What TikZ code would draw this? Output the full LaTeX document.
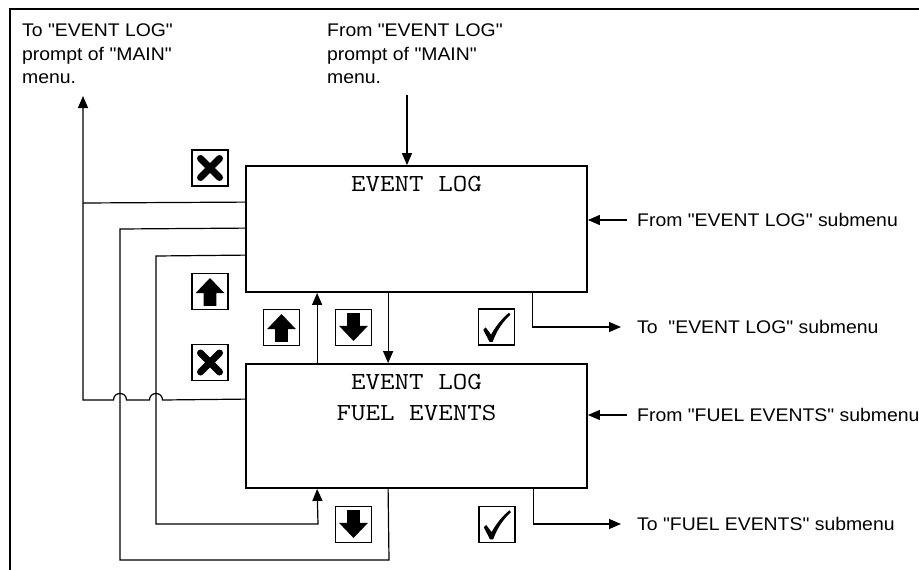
\documentclass[tikz,border=0pt]{standalone}
\usepackage{fontspec}
\setmainfont{Liberation Sans}[FakeStretch=1.06, Ligatures=TeXOff]
\newcommand\dq{\symbol{34}}
\newcommand\lcdline[1]{\scalebox{1.15}[1]{\ttfamily #1}}
\usetikzlibrary{arrows.meta,calc}
\tikzset{
  conn/.style={line width=1.2pt, black},
  arr/.style={conn, -{Triangle[length=12pt,width=10pt]}},
  panel/.style={draw, line width=1.8pt, minimum width=341pt, minimum height=126pt, inner sep=0pt},
  keybox/.style={draw, line width=1.5pt, minimum width=36pt, minimum height=36pt, inner sep=0pt, fill=white},
  lcdtext/.style={font=\fontsize{24.5}{30}\selectfont, inner sep=0pt},
  note/.style={font=\fontsize{18.3}{23.3}\selectfont, align=left, inner sep=0pt},
  side/.style={font=\fontsize{18.3}{23.3}\selectfont, inner sep=0pt, anchor=west},
  xsym/.pic={\draw[line width=7pt, line cap=round] (-9.5,-9.5)--(9.5,9.5) (-9.5,9.5)--(9.5,-9.5);},
  upsym/.pic={\fill (0,-13.5) -- (14.5,1.7) -- (6.3,1.7) -- (6.3,14.3) -- (-6.3,14.3) -- (-6.3,1.7) -- (-14.5,1.7) -- cycle;},
  downsym/.pic={\fill (0,13.5) -- (14.5,-1.7) -- (6.3,-1.7) -- (6.3,-14.3) -- (-6.3,-14.3) -- (-6.3,-1.7) -- (-14.5,-1.7) -- cycle;},
  checksym/.pic={\fill (-13.2,2.8) -- (-10.8,0.4) -- (-5.4,7.6) .. controls (0,-2) and (6,-9) .. (12.4,-14.2) -- (14,-12.4) .. controls (6,-5) and (0,4) .. (-3.8,14.8) -- (-7,14.8) -- cycle;},
}
\begin{document}
\begin{tikzpicture}[x=1pt,y=-1pt]
\useasboundingbox (0,0) rectangle (919,570);
% outer frame (right and bottom edges lie beyond the picture)
\draw[line width=1.8pt] (10,9) rectangle (940,590);

% panels
\node[panel] (box1) at (416.5,229) {};
\node[panel, minimum height=124pt] (box2) at (416.5,426) {};
\node[lcdtext, anchor=base] (t1) at (416.5,191.7) {\lcdline{EVENT LOG}};
\node[lcdtext, anchor=base] (t2) at (416.5,389.3) {\lcdline{EVENT LOG}};
\node[lcdtext, anchor=base] (t3) at (416.5,420) {\lcdline{FUEL EVENTS}};

% notes
\node[note, anchor=north west] (tl) at (22,24) {To \dq EVENT LOG\dq\\prompt of \dq MAIN\dq\\menu.};
\node[note, anchor=north west] (tt) at (327,24) {From \dq EVENT LOG\dq\\prompt of \dq MAIN\dq\\menu.};
\node[side] (fel) at (637,220) {From \dq EVENT LOG\dq{} submenu};
\node[side] (tel) at (637,327) {To\ \ \dq EVENT LOG\dq{} submenu};
\node[side] (ffe) at (637,415) {From \dq FUEL EVENTS\dq{} submenu};
\node[side] (tfe) at (637,524) {To \dq FUEL EVENTS\dq{} submenu};

% key icons
\node[keybox] (x1) at (210,168) {};
\node[keybox] (u1) at (210,291.5) {};
\node[keybox] (x2) at (210,362.5) {};
\node[keybox] (u2) at (281.5,327.5) {};
\node[keybox] (d1) at (353.5,327.5) {};
\node[keybox] (c1) at (496.5,327) {};
\node[keybox] (d2) at (353.5,524.5) {};
\node[keybox] (c2) at (497,524.5) {};
\pic at (x1) {xsym};
\pic at (x2) {xsym};
\pic at (u1) {upsym};
\pic at (u2) {upsym};
\pic at (d1) {downsym};
\pic at (d2) {downsym};
\pic at (c1) {checksym};
\pic at (c2) {checksym};

% connectors
\coordinate (topin) at (407,95);
\coordinate (mainout) at (83,96);
\draw[arr] (topin) -- (topin |- box1.north);
\draw[arr] ($(box2.north west)+(0,36)$) -- (162.5,400)
   .. controls (162.5,391.3) and (149.5,391.3) .. (149.5,400) -- (126.5,400)
   .. controls (126.5,391.3) and (113.5,391.3) .. (113.5,400) -- (83,400) -- (mainout);
\draw[conn] ($(box1.north west)+(0,37)$) -- (83,203);
\draw[conn] ($(box1.north west)+(0,63)$) -- (120,229) -- (120,560) -- (389,560) -- ($(box2.south west)+(143,0)$);
\draw[arr] ($(box1.north west)+(0,90)$) -- (156,256) -- (156,524) -- (318,524) -- ($(box2.south west)+(72,0)$);
\draw[arr] ($(box2.north west)+(72,0)$) -- ($(box1.south west)+(72,0)$);
\draw[arr] ($(box1.south west)+(143,0)$) -- ($(box2.north west)+(143,0)$);
\draw[arr] ($(fel.west)+(-10,0)$) -- (fel.west -| box1.east);
\draw[arr] ($(box1.south west)+(287,0)$) |- ($(tel.west)+(-16,0)$);
\draw[arr] ($(ffe.west)+(-10,0)$) -- (ffe.west -| box2.east);
\draw[arr] ($(box2.south west)+(288,0)$) |- ($(tfe.west)+(-16,0)$);
\end{tikzpicture}
\end{document}
